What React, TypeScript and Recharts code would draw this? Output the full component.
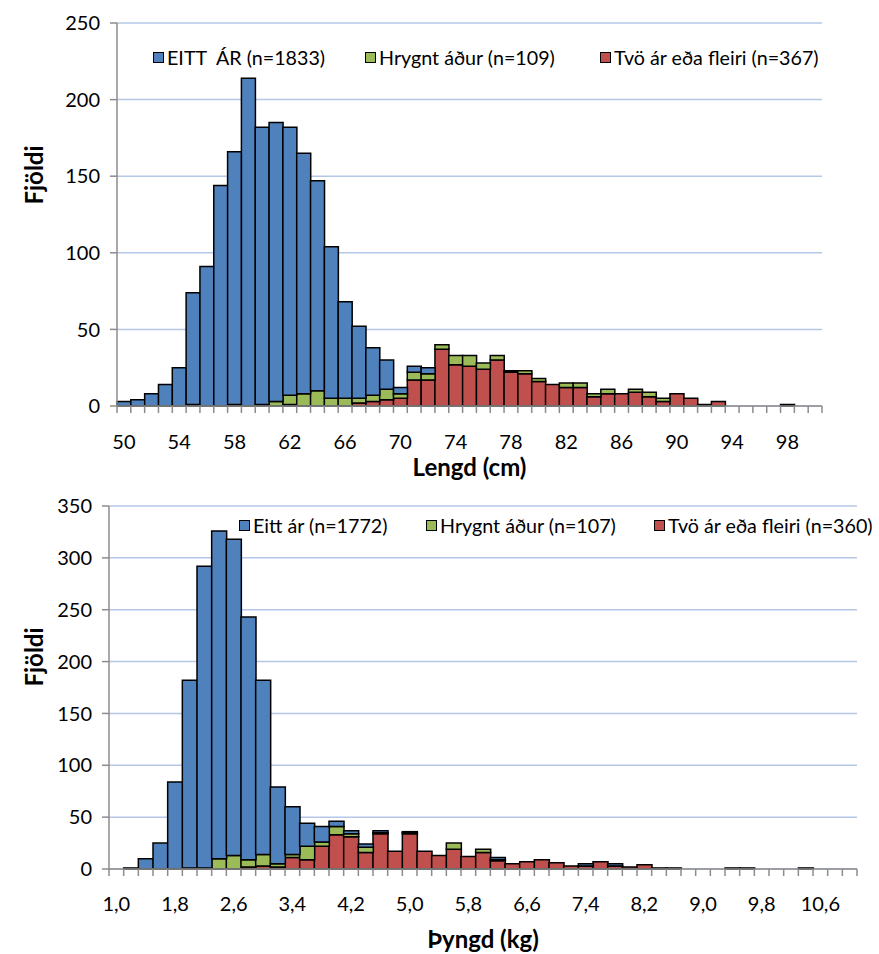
import React from 'react';
import { BarChart, Bar, XAxis, YAxis, CartesianGrid, Legend } from 'recharts';

const FONT = 'Lato, "Open Sans", "DejaVu Sans", sans-serif';
const BLUE = '#4F81BD';
const GREEN = '#9BBB59';
const RED = '#C0504D';
const GRID = '#B4C7E7';
const AXIS = '#8C8C8C';

// ---------- Length chart (Lengd, cm) ----------
const lengthCategories = [
  '50', '51', '52', '53', '54', '55', '56', '57', '58', '59',
  '60', '61', '62', '63', '64', '65', '66', '67', '68', '69',
  '70', '71', '72', '73', '74', '75', '76', '77', '78', '79',
  '80', '81', '82', '83', '84', '85', '86', '87', '88', '89',
  '90', '91', '92', '93', '94', '95', '96', '97', '98', '99', '100',
];
const lengthOneYear = [
  3, 4, 8, 14, 25, 73, 91, 144, 165, 214,
  181, 182, 175, 157, 137, 99, 63, 47, 31, 19,
  4, 4, 4, 0, 0, 0, 0, 0, 0, 0,
  0, 0, 0, 0, 0, 0, 0, 0, 0, 0,
  0, 0, 0, 0, 0, 0, 0, 0, 0, 0, 0,
];
const lengthSpawned = [
  0, 0, 0, 0, 0, 1, 0, 0, 1, 0,
  1, 3, 6, 8, 10, 5, 5, 3, 4, 7,
  3, 5, 4, 3, 6, 7, 4, 3, 1, 2,
  2, 0, 3, 3, 2, 3, 0, 2, 3, 2,
  0, 0, 0, 0, 0, 0, 0, 0, 0, 0, 0,
];
const lengthTwoPlus = [
  0, 0, 0, 0, 0, 0, 0, 0, 0, 0,
  0, 0, 1, 0, 0, 0, 0, 2, 3, 4,
  5, 17, 17, 37, 27, 26, 24, 30, 22, 21,
  16, 14, 12, 12, 6, 8, 8, 9, 6, 3,
  8, 5, 1, 3, 0, 0, 0, 0, 1, 0, 0,
];
const lengthTicks = [0, 50, 100, 150, 200, 250];
const lengthLegend = ['EITT  ÁR (n=1833)', 'Hrygnt áður (n=109)', 'Tvö ár eða fleiri (n=367)'];

// ---------- Weight chart (Þyngd, kg) ----------
const weightCategories = [
  '1,0', '1,2', '1,4', '1,6', '1,8', '2,0', '2,2', '2,4', '2,6', '2,8',
  '3,0', '3,2', '3,4', '3,6', '3,8', '4,0', '4,2', '4,4', '4,6', '4,8',
  '5,0', '5,2', '5,4', '5,6', '5,8', '6,0', '6,2', '6,4', '6,6', '6,8',
  '7,0', '7,2', '7,4', '7,6', '7,8', '8,0', '8,2', '8,4', '8,6', '8,8',
  '9,0', '9,2', '9,4', '9,6', '9,8', '10,0', '10,2', '10,4', '10,6', '10,8', '11,0',
];
const weightOneYear = [
  0, 1, 10, 25, 84, 181, 291, 316, 305, 234,
  168, 74, 46, 22, 15, 5, 3, 3, 2, 0,
  1, 0, 0, 0, 0, 0, 2, 0, 0, 0,
  0, 0, 2, 0, 2, 0, 0, 0, 0, 0,
  0, 0, 0, 0, 0, 0, 0, 0, 0, 0, 0,
];
const weightSpawned = [
  0, 0, 0, 0, 0, 1, 1, 10, 13, 7,
  11, 3, 3, 13, 4, 8, 3, 5, 1, 0,
  1, 0, 0, 6, 0, 3, 1, 0, 0, 0,
  0, 0, 0, 0, 0, 0, 0, 0, 0, 0,
  0, 0, 0, 0, 0, 0, 0, 0, 0, 0, 0,
];
const weightTwoPlus = [
  0, 0, 0, 0, 0, 0, 0, 0, 0, 2,
  3, 2, 11, 9, 22, 33, 31, 16, 34, 17,
  34, 17, 13, 19, 12, 16, 8, 5, 7, 9,
  6, 3, 3, 7, 3, 2, 4, 1, 1, 0,
  0, 0, 1, 1, 0, 0, 0, 1, 0, 0, 0,
];
const weightTicks = [0, 50, 100, 150, 200, 250, 300, 350];
const weightLegend = ['Eitt ár (n=1772)', 'Hrygnt áður (n=107)', 'Tvö ár eða fleiri (n=360)'];

const seriesColors = [BLUE, GREEN, RED];

function buildRows(cats: string[], one: number[], spawned: number[], two: number[]) {
  return cats.map((c, i) => ({ cat: c, one: one[i], spawned: spawned[i], two: two[i] }));
}

const lengthRows = buildRows(lengthCategories, lengthOneYear, lengthSpawned, lengthTwoPlus);
const weightRows = buildRows(weightCategories, weightOneYear, weightSpawned, weightTwoPlus);

function makeXTick(total: number, every: number, labelDy: number, fallbackHalf: number) {
  return (p: any) => {
    const { x, y, payload, index } = p;
    const half = payload && typeof payload.offset === 'number' && payload.offset > 0 ? payload.offset : fallbackHalf;
    const left = x - half;
    const right = x + half;
    return (
      <g>
        <line x1={left} x2={left} y1={y} y2={y + 7} stroke={AXIS} strokeWidth={1.5} />
        {index === total - 1 && (
          <line x1={right} x2={right} y1={y} y2={y + 7} stroke={AXIS} strokeWidth={1.5} />
        )}
        {index % every === 0 && (
          <text x={x} y={y + labelDy} textAnchor="middle" dominantBaseline="central"
            fontFamily={FONT} fontSize={20} fill="#000">
            {payload.value}
          </text>
        )}
      </g>
    );
  };
}

function LegendBlock({ labels, positions }: { labels: string[]; positions: number[] }) {
  return (
    <div style={{ position: 'relative', height: 22, fontFamily: FONT, fontSize: 19.7, color: '#000' }}>
      {labels.map((l, i) => (
        <div key={l} style={{ position: 'absolute', left: positions[i], top: 0, display: 'flex', alignItems: 'center', whiteSpace: 'pre', height: 22 }}>
          <span style={{ display: 'inline-block', width: 9, height: 9, border: '1.5px solid #000', background: seriesColors[i], marginRight: 3 }} />
          <span>{l}</span>
        </div>
      ))}
    </div>
  );
}

function YTitle({ px, py }: { px: number; py: number }) {
  return (
    <text x={px} y={py} transform={`rotate(-90 ${px} ${py})`} textAnchor="middle" dominantBaseline="central"
      fontFamily={FONT} fontWeight="bold" fontSize={24} fill="#000">
      Fjöldi
    </text>
  );
}

function XTitle({ px, py, text }: { px: number; py: number; text: string }) {
  return (
    <text x={px} y={py} textAnchor="middle" dominantBaseline="central"
      fontFamily={FONT} fontWeight="bold" fontSize={24} fill="#000">
      {text}
    </text>
  );
}

function HistChart(props: {
  rows: any[]; width: number; height: number; margin: any; yWidth: number; xHeight: number;
  ticks: number[]; legendLabels: string[]; legendPos: number[]; legendTop: number; legendLeft: number;
  labelDy: number; xTitle: string; xTitleY: number; yTitleY: number; fallbackHalf: number;
}) {
  const p = props;
  const max = p.ticks[p.ticks.length - 1];
  return (
    <BarChart width={p.width} height={p.height} data={p.rows} margin={p.margin}
      barCategoryGap={0} barGap={0} style={{ fontFamily: FONT }}>
      <CartesianGrid vertical={false} stroke={GRID} strokeWidth={1.5} />
      <XAxis dataKey="cat" interval={0} height={p.xHeight} tickSize={0} tickMargin={0}
        axisLine={{ stroke: AXIS, strokeWidth: 1.5 }} tickLine={false}
        tick={makeXTick(p.rows.length, 4, p.labelDy, p.fallbackHalf)}
        label={<XTitle px={(p.yWidth + p.width - p.margin.right) / 2} py={p.xTitleY} text={p.xTitle} />} />
      <YAxis width={p.yWidth} domain={[0, max]} ticks={p.ticks} interval={0} tickSize={7} tickMargin={10}
        axisLine={{ stroke: AXIS, strokeWidth: 1.5 }} tickLine={{ stroke: AXIS, strokeWidth: 1.5 }}
        tick={{ fontFamily: FONT, fontSize: 20, fill: '#000' }}
        label={<YTitle px={33} py={p.yTitleY} />} />
      <Legend layout="horizontal" verticalAlign="middle" align="center"
        wrapperStyle={{ position: 'absolute', top: p.legendTop, left: p.legendLeft, width: 760, height: 22 }}
        content={() => <LegendBlock labels={p.legendLabels} positions={p.legendPos} />} />
      <Bar dataKey="two" stackId="s" fill={RED} stroke="#000" strokeWidth={1.5} isAnimationActive={false} />
      <Bar dataKey="spawned" stackId="s" fill={GREEN} stroke="#000" strokeWidth={1.5} isAnimationActive={false} />
      <Bar dataKey="one" stackId="s" fill={BLUE} stroke="#000" strokeWidth={1.5} isAnimationActive={false} />
    </BarChart>
  );
}

export default function App() {
  return (
    <div style={{ position: 'absolute', left: 0, top: 0, width: 879, height: 954, background: '#fff' }}>
      <div style={{ position: 'absolute', left: 0, top: 0 }}>
        <HistChart rows={lengthRows} width={879} height={480}
          margin={{ top: 23, right: 57, bottom: 0, left: 0 }} yWidth={117} xHeight={74}
          ticks={lengthTicks} legendLabels={lengthLegend} legendPos={[0, 212, 447]}
          legendTop={46} legendLeft={153} labelDy={35} xTitle="Lengd (cm)" xTitleY={466}
          yTitleY={175} fallbackHalf={6.9} />
      </div>
      <div style={{ position: 'absolute', left: 0, top: 480 }}>
        <HistChart rows={weightRows} width={879} height={474}
          margin={{ top: 26, right: 22, bottom: 0, left: 0 }} yWidth={109} xHeight={85}
          ticks={weightTicks} legendLabels={weightLegend} legendPos={[0, 187, 415]}
          legendTop={34} legendLeft={239} labelDy={34} xTitle="Þyngd (kg)" xTitleY={458}
          yTitleY={177} fallbackHalf={7.3} />
      </div>
    </div>
  );
}
